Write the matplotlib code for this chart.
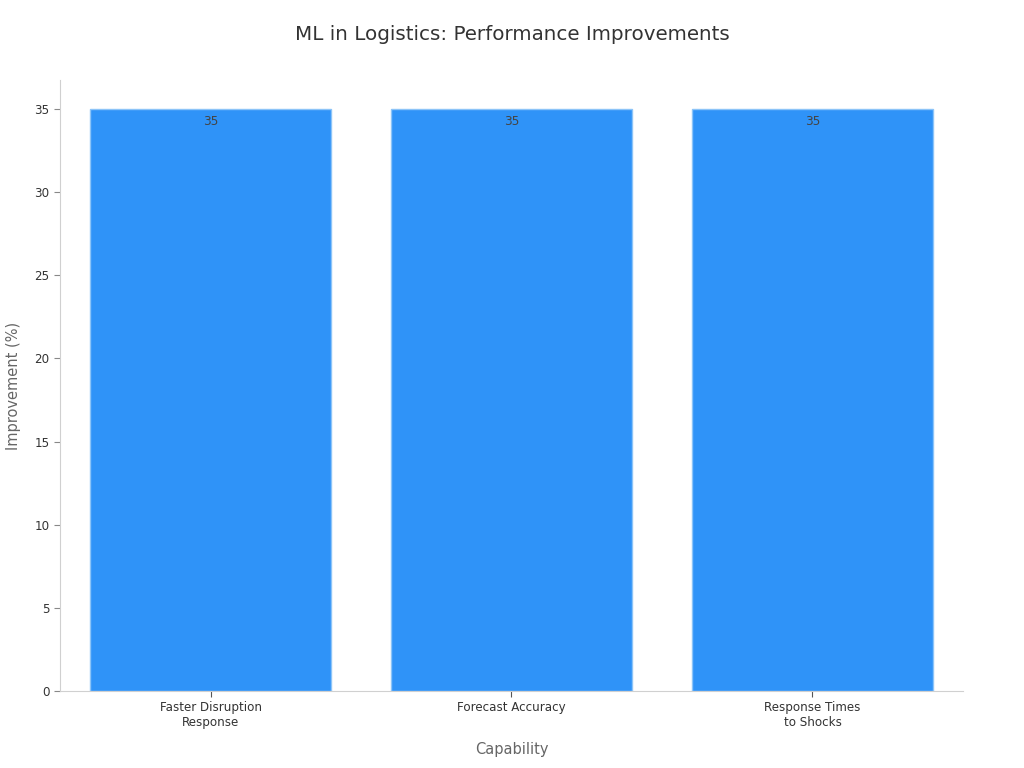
import matplotlib
matplotlib.use("Agg")
import matplotlib.pyplot as plt

categories = ["Faster Disruption\nResponse", "Forecast Accuracy", "Response Times\nto Shocks"]
values = [35, 35, 35]

fig = plt.figure(figsize=(10.24, 7.68), dpi=100)
ax = fig.add_axes([0.0586, 0.1003, 0.8818, 0.7955])

x = list(range(len(categories)))
bars = ax.bar(x, values, width=0.8, color="#2F93F8", edgecolor="#8CC4F8", linewidth=1)
for xi, v in zip(x, values):
    ax.text(xi, v - 0.35, f"{v}", ha="center", va="top", fontsize=8.7, color="#444444")

ax.set_xlim(-0.5, 2.5)
ax.set_ylim(0, 36.75)
ax.set_xticks(x)
ax.set_xticklabels(categories, fontsize=8.6, color="#333333")
ax.set_yticks([0, 5, 10, 15, 20, 25, 30, 35])
ax.tick_params(axis="y", labelsize=8.6, colors="#888888", labelcolor="#333333", length=4)
ax.tick_params(axis="x", colors="#555555", labelcolor="#333333", length=4)

for s in ["top", "right"]:
    ax.spines[s].set_visible(False)
for s in ["left", "bottom"]:
    ax.spines[s].set_color("#D0D0D0")

ax.set_xlabel("Capability", fontsize=10.5, color="#666666", labelpad=9)
ax.set_ylabel("Improvement (%)", fontsize=10.5, color="#666666", labelpad=10)
fig.suptitle("ML in Logistics: Performance Improvements", fontsize=14.3, color="#333333", y=0.968)

fig.savefig("out.png", dpi=100)
